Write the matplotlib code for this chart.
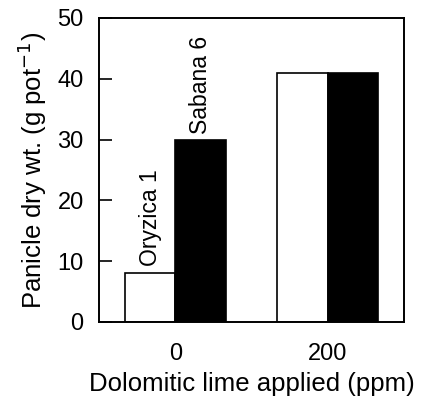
import matplotlib.pyplot as plt
import numpy as np

plt.rcParams['font.family'] = ['Liberation Sans', 'DejaVu Sans']

lime = ['0', '200']
oryzica = [8, 41]
sabana = [30, 41]
cultivars = ['Oryzica 1', 'Sabana 6']

fig = plt.figure(figsize=(4.24, 4.05), dpi=100)
ax = fig.add_axes([99/424, 1 - 322/405, 305/424, 304/405])

x = np.arange(len(lime))
w = 0.33
ax.bar(x - w/2, oryzica, w, color='white', edgecolor='black', linewidth=1.2)
ax.bar(x + w/2, sabana, w, color='black', edgecolor='black', linewidth=1.2)

# cultivar labels above the first group
ax.text(x[0] - w/2, oryzica[0] + 1.2, cultivars[0], rotation=90, ha='center', va='bottom', fontsize=16.5)
ax.text(x[0] + w/2, sabana[0] + 1.0, cultivars[1], rotation=90, ha='center', va='bottom', fontsize=16.5)

ax.set_xlim(-0.5, 1.5)
ax.set_ylim(0, 50)
ax.set_xticks(x)
ax.set_xticklabels(lime, fontsize=17)
ax.set_yticks([0, 10, 20, 30, 40, 50])
ax.tick_params(axis='y', direction='in', length=9, width=1.2, labelsize=17, pad=11)
ax.tick_params(axis='x', length=0, pad=15)
for s in ax.spines.values():
    s.set_linewidth(1.4)

ax.set_xlabel('Dolomitic lime applied (ppm)', fontsize=18.5, labelpad=5)
ax.set_ylabel('Panicle dry wt. (g pot$^{-1}$)', fontsize=18.5, labelpad=6)

fig.savefig('out.png', dpi=100)
